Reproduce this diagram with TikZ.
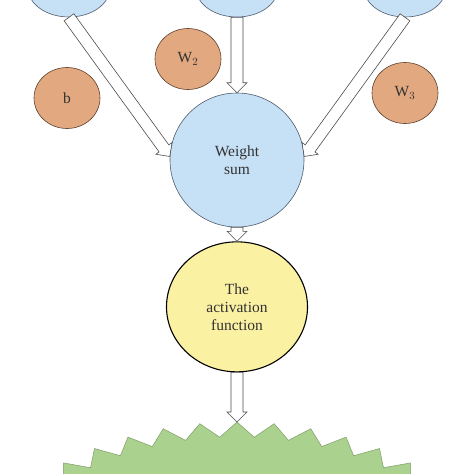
\documentclass[tikz,border=0pt]{standalone}
\usepackage{fontspec}
\setmainfont{Liberation Serif}
\usetikzlibrary{calc,positioning,shapes.geometric}
\definecolor{inblue}{RGB}{198,224,246}
\definecolor{inedge}{RGB}{80,92,108}
\definecolor{wtorange}{RGB}{226,168,128}
\definecolor{wtedge}{RGB}{95,65,45}
\definecolor{actyellow}{RGB}{251,241,162}
\definecolor{outgreen}{RGB}{170,209,142}
\definecolor{txt}{RGB}{50,50,50}
\newcommand{\blockarrow}[2]{%
  \draw[hollow] let \p1=(#1), \p2=(#2), \n1={atan2(\y2-\y1,\x2-\x1)} in
    ($(\p1)+({\n1+90}:6pt)$) -- ($(\p2)+({\n1+180}:10pt)+({\n1+90}:6pt)$)
    -- ($(\p2)+({\n1+180}:10pt)+({\n1+90}:10pt)$) -- (\p2)
    -- ($(\p2)+({\n1+180}:10pt)+({\n1-90}:10pt)$) -- ($(\p2)+({\n1+180}:10pt)+({\n1-90}:6pt)$)
    -- ($(\p1)+({\n1-90}:6pt)$) -- cycle;}

\begin{document}
\begin{tikzpicture}[x=1pt,y=-1pt,
  inp/.style = {draw=inedge, line width=0.6pt, fill=inblue, ellipse, minimum width=82pt, minimum height=58pt},
  wt/.style = {draw=wtedge, line width=0.6pt, fill=wtorange, ellipse, inner sep=0pt, minimum width=66pt, minimum height=61pt, text=txt, font=\fontsize{15.5}{18}\selectfont},
  sum/.style = {draw=inedge, line width=0.6pt, fill=inblue, circle, minimum size=134pt, align=center, text=txt, font=\fontsize{15.5}{17.5}\selectfont},
  act/.style = {draw=black, line width=1.1pt, fill=actyellow, ellipse, minimum width=141pt, minimum height=130pt, align=center, text=txt, font=\fontsize{15.5}{18}\selectfont},
  hollow/.style = {draw=black!70, line width=0.6pt, fill=white},
  burst/.style = {fill=outgreen, draw=outgreen!75!black, line width=0.5pt}]
\clip (0,0) rectangle (474,474);
\node[inp] (in1) at (69,-12) {};
\node[inp] (in2) at (237,-12) {};
\node[inp] (in3) at (405,-12) {};
\node[wt] (w2) at (188,59) {W$_2$};
\node[wt] (b) at (67,98) {b};
\node[wt] (w3) at (405,93) {W$_3$};
\node[sum] (sum) at (237,160) {Weight\\sum};
\node[act] (act) [below=14pt of sum] {The\\activation\\function};
\draw[burst] (237,422) \foreach \i [evaluate=\i as \t using {90+\i*3.75}, evaluate=\i as \f using {1-0.075*mod(\i,2)}] in {1,...,95} { -- ({237+285*\f*cos(\t)},{620-198*\f*sin(\t)}) } -- cycle;
\coordinate (out) at (237,422);
\blockarrow{in1.south}{sum.177}
\blockarrow{in2.south}{sum.north}
\blockarrow{in3.south}{sum.3}
\blockarrow{sum.south}{act.north}
\blockarrow{act.south}{out}
\end{tikzpicture}
\end{document}
